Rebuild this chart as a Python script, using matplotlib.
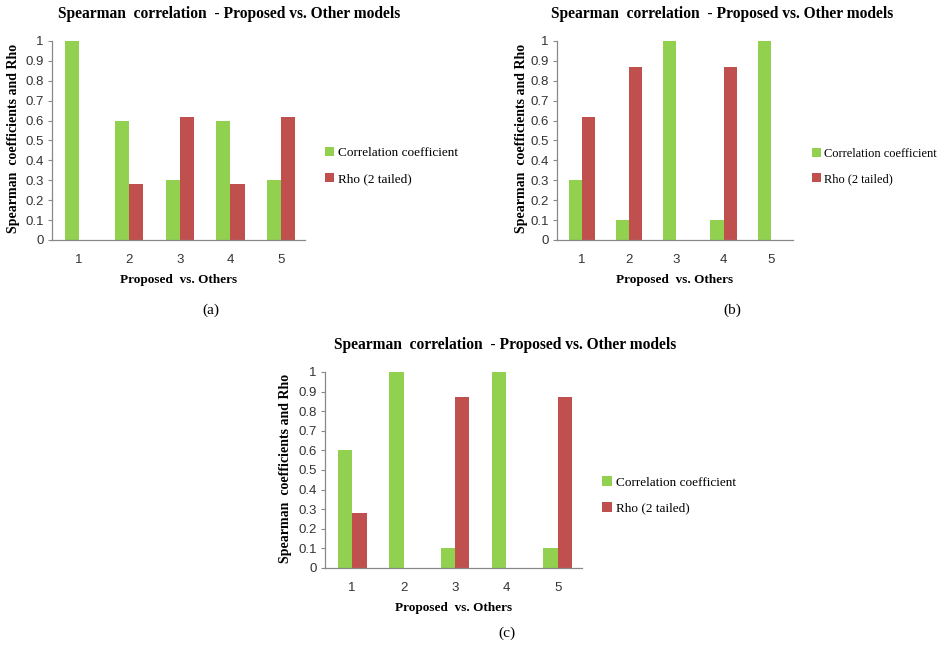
import numpy as np
import matplotlib
matplotlib.use("Agg")
import matplotlib.pyplot as plt

# Data
categories = [1, 2, 3, 4, 5]
series_names = ["Correlation coefficient", "Rho (2 tailed)"]

corr_a = [1.0, 0.6, 0.3, 0.6, 0.3]
rho_a = [0.0, 0.28, 0.62, 0.28, 0.62]

corr_b = [0.3, 0.1, 1.0, 0.1, 1.0]
rho_b = [0.62, 0.87, 0.0, 0.87, 0.0]

corr_c = [0.6, 1.0, 0.1, 1.0, 0.1]
rho_c = [0.28, 0.0, 0.87, 0.0, 0.87]

yticks = [0, 0.1, 0.2, 0.3, 0.4, 0.5, 0.6, 0.7, 0.8, 0.9, 1]
ytick_labels = ["0", "0.1", "0.2", "0.3", "0.4", "0.5", "0.6", "0.7", "0.8", "0.9", "1"]

title = "Spearman  correlation  - Proposed vs. Other models"
xlabel = "Proposed  vs. Others"
ylabel = "Spearman  coefficients and Rho"

GREEN = "#92D050"
RED = "#C0504D"
SERIF = "Liberation Serif"
SANS = "Liberation Sans"


def draw_panel(fig, rect, corr, rho, tag, tag_xy, leg_size=9.5):
    ax = fig.add_axes(rect)
    x = np.array(categories)
    w = 0.28
    ax.bar(x - w / 2 + 0.03, corr, w, color=GREEN, label=series_names[0])
    ax.bar(x + w / 2 + 0.03, rho, w, color=RED, label=series_names[1])
    ax.set_xlim(0.5, 5.5)
    ax.set_ylim(0, 1)
    ax.set_yticks(yticks)
    ax.set_yticklabels(ytick_labels, family=SANS, fontsize=9.5, color="#333333")
    ax.set_xticks(x + 0.03)
    ax.set_xticklabels([str(c) for c in categories], family=SANS, fontsize=9.5, color="#333333")
    ax.tick_params(axis="x", length=0, pad=10)
    ax.tick_params(axis="y", length=3, color="#888888", pad=3)
    for s in ["top", "right"]:
        ax.spines[s].set_visible(False)
    for s in ["left", "bottom"]:
        ax.spines[s].set_color("#888888")
        ax.spines[s].set_linewidth(0.9)
    ax.text(0.70, 1.135, title, transform=ax.transAxes, family=SERIF,
            fontweight="bold", fontsize=11.2, ha="center", va="center")
    ax.set_xlabel(xlabel, family=SERIF, fontweight="bold", fontsize=9.5, labelpad=6)
    ax.set_ylabel(ylabel, family=SERIF, fontweight="bold", fontsize=10, va="center")
    ax.yaxis.set_label_coords(-0.152, 0.51)
    ax.legend(loc="center left", bbox_to_anchor=(1.08, 0.37),
              bbox_transform=ax.transAxes, frameon=False,
              prop={"family": SERIF, "size": leg_size}, handlelength=0.7,
              handleheight=0.7, handletextpad=0.3, labelspacing=1.05,
              borderaxespad=0, borderpad=0)
    fig.text(tag_xy[0] / 943, 1 - tag_xy[1] / 645, tag, family=SERIF, fontsize=11,
             ha="center", va="center")
    return ax


fig = plt.figure(figsize=(9.43, 6.45), dpi=100)

draw_panel(fig, [0.0551, 0.628, 0.268, 0.3085], corr_a, rho_a, "(a)", (211, 310))
draw_panel(fig, [0.5907, 0.628, 0.2503, 0.3085], corr_b, rho_b, "(b)", (732, 310), leg_size=8.9)
draw_panel(fig, [0.3446, 0.1194, 0.2725, 0.304], corr_c, rho_c, "(c)", (507, 633))

fig.savefig("out.png", dpi=100)
